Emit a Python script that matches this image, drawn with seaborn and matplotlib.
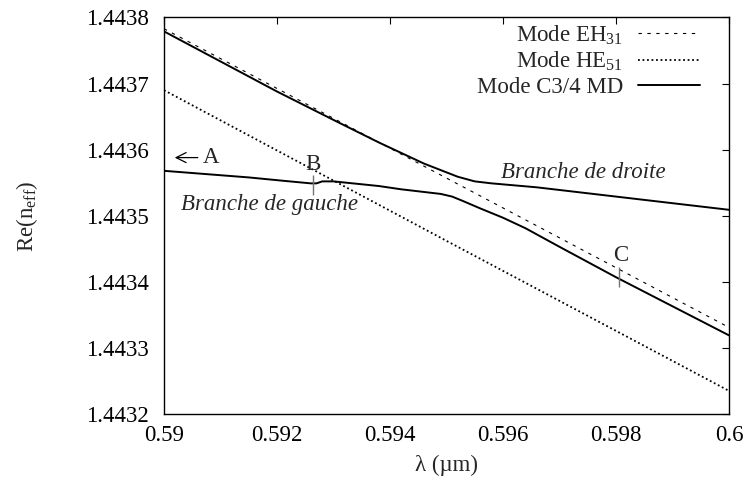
import matplotlib
matplotlib.use("Agg")
import matplotlib.pyplot as plt
import matplotlib.ticker as mticker
import seaborn as sns

# Straight reference modes
lam_eh31 = [0.590, 0.595, 0.600]
neff_eh31 = [1.443783, 1.443557, 1.443331]

lam_he51 = [0.590, 0.595, 0.600]
neff_he51 = [1.443690, 1.443462, 1.443235]

# C3/4 MD mode, two branches of the anticrossing
lam_droite = [0.5900, 0.5920, 0.5930, 0.5938, 0.5942, 0.5946, 0.5949, 0.5952,
              0.5955, 0.5958, 0.5962, 0.5966, 0.5970, 0.5975, 0.5980, 0.5990, 0.6000]
neff_droite = [1.443779, 1.443688, 1.443645, 1.443611, 1.443595, 1.443579, 1.443569, 1.443559,
               1.443552, 1.443549, 1.443546, 1.443543, 1.443539, 1.443534, 1.443529, 1.443519, 1.443509]

lam_gauche = [0.5900, 0.5915, 0.5921, 0.5926, 0.5927, 0.5928, 0.5930, 0.5938, 0.5942,
              0.5945, 0.5947, 0.5949, 0.5951, 0.5953, 0.5956, 0.5960, 0.5964, 0.5970,
              0.5980, 0.5990, 0.6000]
neff_gauche = [1.443568, 1.443558, 1.443553, 1.443549, 1.443549, 1.443552, 1.443552, 1.443545, 1.443540,
               1.443537, 1.443535, 1.443533, 1.443529, 1.443522, 1.443511, 1.443497, 1.443481, 1.443453,
               1.443407, 1.443363, 1.443319]

# Marked points B and C (position, bottom, top of the small tick)
mark_lam = [0.59264, 0.59805]
mark_low = [1.443532, 1.443392]
mark_high = [1.443561, 1.443422]

x_ticks = [0.590, 0.592, 0.594, 0.596, 0.598, 0.600]
y_ticks = [1.4432, 1.4433, 1.4434, 1.4435, 1.4436, 1.4437, 1.4438]

sns.set_style("white")
plt.rcParams["font.family"] = ["Liberation Serif", "DejaVu Serif"]
plt.rcParams["mathtext.fontset"] = "custom"
plt.rcParams["mathtext.rm"] = "Liberation Serif"
plt.rcParams["mathtext.it"] = "Liberation Serif:italic"
plt.rcParams["mathtext.bf"] = "Liberation Serif:bold"

fs = 16.5

fig = plt.figure(figsize=(7.51, 4.90), dpi=100)
ax = fig.add_axes([164 / 751, 1 - 414 / 490, 565 / 751, 396.5 / 490])

sns.lineplot(x=lam_eh31, y=neff_eh31, ax=ax, color="black", lw=0.8,
             label="Mode EH$_{31}$")
ax.lines[-1].set_dashes((3, 5))
sns.lineplot(x=lam_he51, y=neff_he51, ax=ax, color="black", lw=1.3,
             label="Mode HE$_{51}$")
ax.lines[-1].set_dashes((1, 1.5))
sns.lineplot(x=lam_droite, y=neff_droite, ax=ax, color="black", lw=1.4,
             sort=False, label="Mode C3/4 MD")
sns.lineplot(x=lam_gauche, y=neff_gauche, ax=ax, color="black", lw=1.4, sort=False)

ax.vlines(mark_lam, mark_low, mark_high, color="0.45", lw=1.0)

# annotations
ax.annotate("A", xy=(0.59019, 1.443588), xytext=(0.59068, 1.443588),
            fontsize=fs, ha="left", va="center",
            arrowprops=dict(arrowstyle="->, head_length=0.6, head_width=0.3",
                            lw=0.9, color="black", shrinkA=1, shrinkB=0,
                            mutation_scale=12))
ax.text(mark_lam[0], 1.443578, "B", fontsize=fs, va="center", ha="center")
ax.text(0.59808, 1.443440, "C", fontsize=fs, va="center", ha="center")
ax.text(0.5903, 1.443517, "Branche de gauche", fontsize=fs, style="italic",
        va="center", ha="left")
ax.text(0.59597, 1.443566, "Branche de droite", fontsize=fs, style="italic",
        va="center", ha="left")

ax.set_xlim(0.59, 0.6)
ax.set_ylim(1.4432, 1.4438)
ax.set_xticks(x_ticks)
ax.set_yticks(y_ticks)
ax.xaxis.set_major_formatter(mticker.FuncFormatter(lambda v, p: f"{v:g}"))
ax.yaxis.set_major_formatter(mticker.FuncFormatter(lambda v, p: f"{v:.4f}"))
ax.tick_params(axis="both", direction="in", length=5, width=0.8,
               top=True, right=True, labelsize=fs, colors="black")
ax.tick_params(axis="x", pad=8)
ax.tick_params(axis="y", pad=11)
for s in ax.spines.values():
    s.set_color("black")
    s.set_linewidth(1.0)

ax.set_xlabel("\u03bb (\u00b5m)", fontsize=fs, labelpad=6)
ax.set_ylabel("Re(n$_{\\mathrm{eff}}$)", fontsize=fs)
ax.yaxis.set_label_coords(-0.22, 0.5)

leg = ax.legend(loc="upper right", bbox_to_anchor=(0.956, 0.997), frameon=False,
                markerfirst=False, fontsize=fs, handlelength=2.7,
                handletextpad=0.65, labelspacing=0.15, borderpad=0,
                borderaxespad=0.2)

fig.savefig("out.png", dpi=100)
